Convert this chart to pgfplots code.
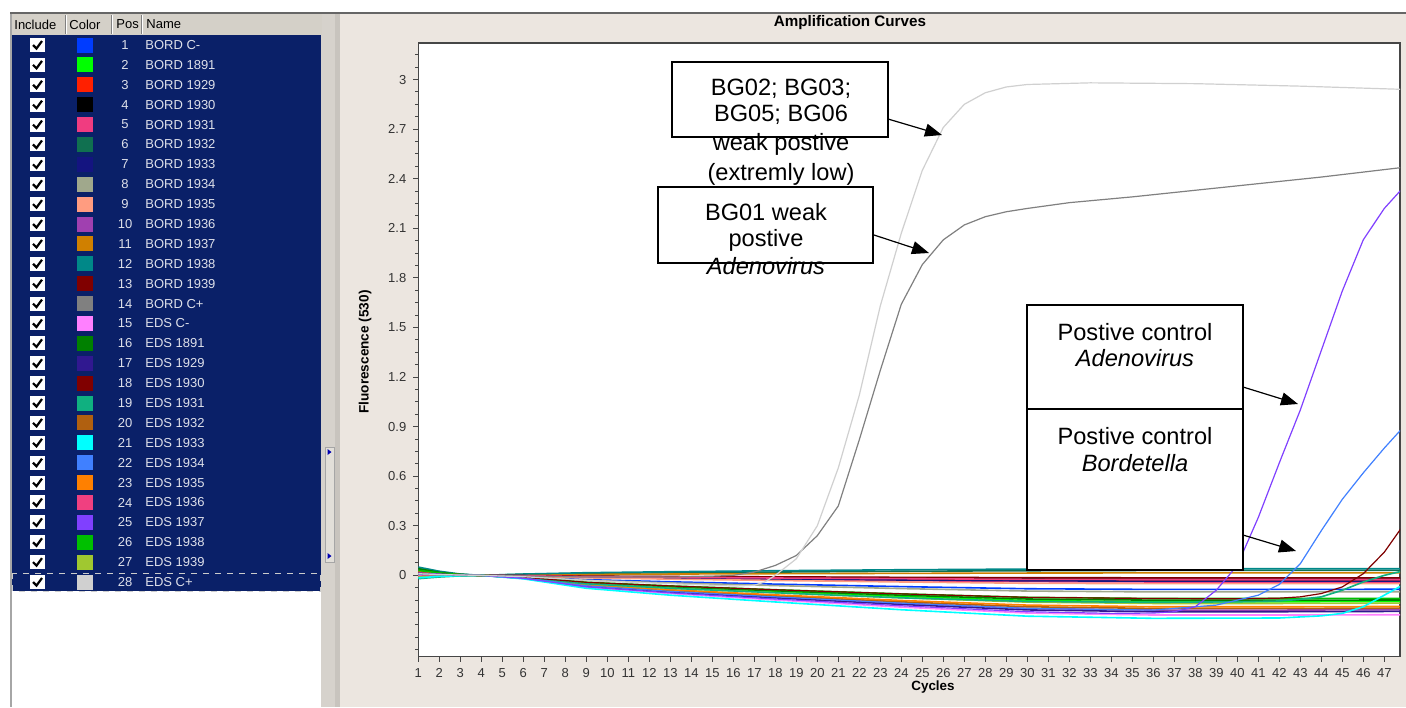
\documentclass[border=0pt]{standalone}
\usepackage{pgfplots}
\pgfplotsset{compat=1.18}
\usepackage{fontspec}
\setmainfont{Liberation Sans}
\usetikzlibrary{arrows.meta}

\definecolor{panelbg}{RGB}{236,230,224}
\definecolor{winbg}{RGB}{212,208,200}
\definecolor{navy}{RGB}{10,32,104}
\definecolor{rowtxt}{RGB}{222,224,234}
\definecolor{axgray}{RGB}{70,70,70}
\definecolor{c1}{RGB}{0,60,255}
\definecolor{c2}{RGB}{0,255,0}
\definecolor{c3}{RGB}{255,32,0}
\definecolor{c4}{RGB}{0,0,0}
\definecolor{c5}{RGB}{240,60,128}
\definecolor{c6}{RGB}{16,112,80}
\definecolor{c7}{RGB}{20,20,128}
\definecolor{c8}{RGB}{160,168,140}
\definecolor{c9}{RGB}{255,156,128}
\definecolor{c10}{RGB}{160,64,176}
\definecolor{c11}{RGB}{208,128,0}
\definecolor{c12}{RGB}{0,136,136}
\definecolor{c13}{RGB}{128,0,0}
\definecolor{c14}{RGB}{128,128,128}
\definecolor{c15}{RGB}{255,128,255}
\definecolor{c16}{RGB}{0,128,0}
\definecolor{c17}{RGB}{48,24,144}
\definecolor{c18}{RGB}{128,0,0}
\definecolor{c19}{RGB}{16,176,128}
\definecolor{c20}{RGB}{176,96,16}
\definecolor{c21}{RGB}{0,255,255}
\definecolor{c22}{RGB}{64,128,255}
\definecolor{c23}{RGB}{255,128,0}
\definecolor{c24}{RGB}{240,64,128}
\definecolor{c25}{RGB}{128,64,255}
\definecolor{c26}{RGB}{0,192,0}
\definecolor{c27}{RGB}{160,200,48}
\definecolor{c28}{RGB}{208,208,208}
\definecolor{split1}{RGB}{214,210,204}
\definecolor{split2}{RGB}{200,196,190}
\definecolor{handle}{RGB}{226,223,217}

\newcommand{\uifont}{\fontsize{6.5}{7}\selectfont}
\newcommand{\notefont}{\fontsize{11.8}{13.5}\selectfont}

\begin{document}
\begin{tikzpicture}[x=0.5pt,y=-0.5pt]
% window background
\fill[white] (0,0) rectangle (1406,707);
\fill[panelbg] (340,13) rectangle (1406,707);
% splitter
\fill[split1] (321,13) rectangle (335,707);
\fill[split2] (335,13) rectangle (340,707);
\filldraw[fill=handle, draw=gray!70, line width=0.4pt] (325,447) rectangle (334,562);
\fill[blue!70!black] (327.5,449) -- (331.5,452) -- (327.5,455) -- cycle;
\fill[blue!70!black] (327.5,553) -- (331.5,556) -- (327.5,559) -- cycle;
% list panel
\fill[winbg] (10,13) rectangle (322,35);
\fill[navy] (12,35) rectangle (321,591);
\fill[white] (12,591) rectangle (321,707);
\draw[gray!70, line width=1pt] (10.5,13) -- (10.5,707);
\draw[black!60, line width=1pt] (10,13) -- (1406,13);
\foreach \xx in {65,111,141} {
  \draw[gray, line width=0.5pt] (\xx,15) -- (\xx,34);
  \draw[white, line width=0.5pt] (\xx+1.5,15) -- (\xx+1.5,34);
}
\node[anchor=west, inner sep=0, font=\uifont] at (14,24.5) {Include};
\node[anchor=west, inner sep=0, font=\uifont] at (69,24.5) {Color};
\node[anchor=west, inner sep=0, font=\uifont] at (116,24.5) {Pos};
\node[anchor=west, inner sep=0, font=\uifont] at (146,24.5) {Name};
\foreach \i/\nm in {1/BORD C-,2/BORD 1891,3/BORD 1929,4/BORD 1930,5/BORD 1931,6/BORD 1932,7/BORD 1933,8/BORD 1934,9/BORD 1935,10/BORD 1936,11/BORD 1937,12/BORD 1938,13/BORD 1939,14/BORD C+,15/EDS C-,16/EDS 1891,17/EDS 1929,18/EDS 1930,19/EDS 1931,20/EDS 1932,21/EDS 1933,22/EDS 1934,23/EDS 1935,24/EDS 1936,25/EDS 1937,26/EDS 1938,27/EDS 1939,28/EDS C+} {
  \pgfmathsetmacro{\yy}{45+(\i-1)*19.89}
  \fill[white] (30,\yy-7) rectangle (45,\yy+7);
  \draw[black, line width=1.1pt] (33,\yy) -- (36.5,\yy+3.5) -- (42,\yy-4);
  \fill[c\i] (77,\yy-7.5) rectangle (93,\yy+7.5);
  \node[text=rowtxt, inner sep=0, font=\uifont] at (125,\yy) {\i};
  \node[anchor=west, text=rowtxt, inner sep=0, font=\uifont] at (145,\yy) {\nm};
}
\draw[white!80!black, dashed, line width=0.4pt] (12.5,573) rectangle (320.5,591);

\begin{axis}[
  at={(209.15pt,-328.25pt)}, anchor=south west,
  scale only axis, width=490.85pt, height=306.75pt,
  xmin=1, xmax=47.75, ymin=-0.491, ymax=3.221,
  axis background/.style={fill=white},
  axis line style={draw=axgray, line width=0.8pt},
  xtick={1,...,47}, xtick pos=lower, ytick pos=left,
  ytick={0,0.3,0.6,0.9,1.2,1.5,1.8,2.1,2.4,2.7,3},
  yticklabels={0,0.3,0.6,0.9,1.2,1.5,1.8,2.1,2.4,2.7,3},
  minor ytick={-0.45,-0.375,-0.3,-0.225,-0.15,-0.075,0.075,0.15,0.225,0.375,0.45,0.525,0.675,0.75,0.825,0.975,1.05,1.125,1.275,1.35,1.425,1.575,1.65,1.725,1.875,1.95,2.025,2.175,2.25,2.325,2.475,2.55,2.625,2.775,2.85,2.925,3.075,3.15},
  tick align=outside, major tick length=2.5pt, minor tick length=1.5pt,
  tick style={draw=axgray, line width=0.5pt},
  ticklabel style={font=\uifont, text=black!80},
  /pgf/number format/assume math mode=true,
  every axis title shift=0pt,
  title={Amplification Curves},
  title style={at={(axis description cs:0.4397,1.0326)}, anchor=center, font=\bfseries\fontsize{7.6}{9}\selectfont},
  xlabel={Cycles},
  xlabel style={at={(axis description cs:0.5243,-0.0497)}, anchor=center, font=\bfseries\fontsize{6.7}{8}\selectfont},
  ylabel={Fluorescence (530)},
  ylabel style={at={(axis description cs:-0.0543,0.4963)}, anchor=center, font=\bfseries\fontsize{6.8}{8}\selectfont},
  every axis plot/.append style={line width=0.8pt},
]
\addplot[c1] coordinates {(1,0.02)(2,0.01)(3,0.004)(4,0)(6,-0.007)(9,-0.026)(13,-0.039)(18,-0.053)(24,-0.068)(30,-0.081)(36,-0.085)(42,-0.085)(48,-0.084)};
\addplot[c2] coordinates {(1,0.03)(2,0.015)(3,0.005)(4,0)(6,-0.013)(9,-0.048)(13,-0.074)(18,-0.099)(24,-0.128)(30,-0.152)(36,-0.16)(42,-0.16)(48,-0.158)};
\addplot[c3] coordinates {(1,0.01)(2,0.006)(3,0.002)(4,0)(6,-0.002)(9,-0.009)(13,-0.014)(18,-0.019)(24,-0.024)(30,-0.028)(36,-0.03)(42,-0.03)(48,-0.03)};
\addplot[c4] coordinates {(1,0.015)(2,0.012)(3,0.004)(4,0)(6,-0.002)(9,-0.006)(13,-0.009)(18,-0.012)(24,-0.016)(30,-0.019)(36,-0.02)(42,-0.02)(48,-0.02)};
\addplot[c5] coordinates {(1,0.005)(2,0.003)(3,0.001)(4,0)(6,-0.003)(9,-0.012)(13,-0.018)(18,-0.025)(24,-0.032)(30,-0.038)(36,-0.04)(42,-0.04)(48,-0.04)};
\addplot[c6] coordinates {(1,0.04)(2,0.02)(3,0.006)(4,0)(6,0.006)(9,0.012)(13,0.016)(18,0.02)(24,0.025)(30,0.028)(36,0.03)(42,0.03)(48,0.03)};
\addplot[c7] coordinates {(1,-0.01)(2,-0.004)(3,-0.001)(4,0)(6,-0.003)(9,-0.01)(13,-0.016)(18,-0.022)(24,-0.028)(30,-0.033)(36,-0.035)(42,-0.035)(48,-0.035)};
\addplot[c8] coordinates {(1,0.02)(2,0.01)(3,0.003)(4,0)(6,-0.008)(9,-0.03)(13,-0.046)(18,-0.062)(24,-0.08)(30,-0.095)(36,-0.1)(42,-0.1)(48,-0.099)};
\addplot[c9] coordinates {(1,0)(2,0.002)(3,0.001)(4,0)(6,-0.004)(9,-0.015)(13,-0.023)(18,-0.031)(24,-0.04)(30,-0.048)(36,-0.05)(42,-0.05)(48,-0.05)};
\addplot[c10] coordinates {(1,0.03)(2,0.014)(3,0.004)(4,0)(6,-0.017)(9,-0.063)(13,-0.097)(18,-0.13)(24,-0.168)(30,-0.2)(36,-0.21)(42,-0.21)(48,-0.208)};
\addplot[c11] coordinates {(1,0)(2,0.004)(3,0.002)(4,0)(6,0.003)(9,0.006)(13,0.008)(18,0.01)(24,0.012)(30,0.014)(36,0.015)(42,0.015)(48,0.015)};
\addplot[c12] coordinates {(1,0.05)(2,0.025)(3,0.008)(4,0)(6,0.008)(9,0.016)(13,0.022)(18,0.028)(24,0.034)(30,0.038)(36,0.04)(42,0.04)(48,0.04)};
\addplot[c13] coordinates {(1,0.02)(2,0.01)(3,0.003)(4,0)(6,-0.001)(9,-0.005)(13,-0.007)(18,-0.009)(24,-0.012)(30,-0.014)(36,-0.015)(42,-0.015)(48,-0.015)};
\addplot[c15] coordinates {(1,0)(2,0.006)(3,0.002)(4,0)(6,-0.019)(9,-0.072)(13,-0.11)(18,-0.149)(24,-0.192)(30,-0.228)(36,-0.24)(42,-0.24)(48,-0.238)};
\addplot[c16] coordinates {(1,0.04)(2,0.018)(3,0.005)(4,0)(6,-0.012)(9,-0.045)(13,-0.069)(18,-0.093)(24,-0.12)(30,-0.143)(36,-0.15)(42,-0.15)(48,-0.149)};
\addplot[c17] coordinates {(1,0.01)(2,0.008)(3,0.003)(4,0)(6,-0.018)(9,-0.066)(13,-0.101)(18,-0.136)(24,-0.176)(30,-0.209)(36,-0.22)(42,-0.22)(48,-0.218)};
\addplot[c20] coordinates {(1,0.025)(2,0.012)(3,0.004)(4,0)(6,-0.016)(9,-0.06)(13,-0.092)(18,-0.124)(24,-0.16)(30,-0.19)(36,-0.2)(42,-0.2)(48,-0.198)};
\addplot[c23] coordinates {(1,0.02)(2,0.01)(3,0.003)(4,0)(6,-0.015)(9,-0.057)(13,-0.087)(18,-0.118)(24,-0.152)(30,-0.18)(36,-0.19)(42,-0.19)(48,-0.188)};
\addplot[c24] coordinates {(1,-0.005)(2,0)(3,0.001)(4,0)(6,-0.002)(9,-0.008)(13,-0.012)(18,-0.016)(24,-0.02)(30,-0.024)(36,-0.025)(42,-0.025)(48,-0.025)};
\addplot[c26] coordinates {(1,0.03)(2,0.015)(3,0.004)(4,0)(6,-0.011)(9,-0.042)(13,-0.064)(18,-0.087)(24,-0.112)(30,-0.133)(36,-0.14)(42,-0.14)(48,-0.139)};
\addplot[c27] coordinates {(1,-0.01)(2,-0.004)(3,-0.001)(4,0)(6,-0.014)(9,-0.051)(13,-0.078)(18,-0.105)(24,-0.136)(30,-0.162)(36,-0.17)(42,-0.17)(48,-0.168)};
% late risers
\addplot[c19] coordinates {(1,-0.02)(2,-0.01)(3,-0.003)(4,0)(6,-0.014)(9,-0.051)(13,-0.078)(18,-0.105)(24,-0.136)(30,-0.158)(36,-0.163)(40,-0.16)(42,-0.155)(43,-0.145)(44,-0.13)(45,-0.09)(46,-0.04)(47,0)(48,0.03)};
\addplot[c21] coordinates {(1,-0.015)(2,-0.006)(3,-0.002)(4,0)(6,-0.021)(9,-0.078)(13,-0.12)(18,-0.161)(24,-0.208)(30,-0.247)(36,-0.26)(42,-0.258)(44,-0.245)(45,-0.23)(46,-0.19)(47,-0.12)(48,-0.05)};
\addplot[c18, line width=0.6pt] coordinates {(1,0.015)(2,0.008)(3,0.002)(4,0)(6,-0.011)(9,-0.042)(13,-0.064)(18,-0.087)(24,-0.112)(30,-0.133)(36,-0.14)(40,-0.142)(42,-0.138)(43,-0.13)(44,-0.11)(45,-0.07)(46,0.01)(47,0.14)(48,0.32)};
\addplot[c22, line width=0.6pt] coordinates {(1,0.005)(2,0.004)(3,0.001)(4,0)(6,-0.017)(9,-0.063)(13,-0.097)(18,-0.13)(24,-0.168)(30,-0.2)(36,-0.21)(39,-0.18)(40,-0.15)(41,-0.12)(42,-0.055)(43,0.07)(44,0.27)(45,0.46)(46,0.62)(47,0.77)(48,0.91)};
\addplot[c25, line width=0.6pt] coordinates {(1,0.015)(2,0.008)(3,0.002)(4,0)(6,-0.018)(9,-0.069)(13,-0.106)(18,-0.143)(24,-0.184)(30,-0.22)(34,-0.23)(36,-0.228)(37,-0.22)(38,-0.19)(39,-0.09)(40,0.06)(41,0.35)(42,0.68)(43,1.0)(44,1.36)(45,1.72)(46,2.03)(47,2.22)(48,2.36)};
% controls
\addplot[c14, line width=0.6pt] coordinates {(1,0.01)(2,0.005)(3,0.002)(4,0)(6,-0.004)(9,-0.01)(13,-0.01)(15,-0.005)(16,0)(17,0.02)(18,0.06)(19,0.12)(20,0.24)(21,0.42)(22,0.82)(23,1.24)(24,1.64)(25,1.88)(26,2.03)(27,2.12)(28,2.17)(29,2.2)(30,2.22)(32,2.255)(35,2.29)(38,2.33)(41,2.37)(44,2.41)(48,2.47)};
\addplot[c28, line width=0.6pt] coordinates {(1,0.01)(2,0.005)(3,0.002)(4,0)(6,-0.008)(9,-0.03)(13,-0.05)(16,-0.065)(17,-0.06)(17.5,-0.04)(18,0)(19,0.1)(20,0.3)(21,0.65)(22,1.09)(23,1.63)(24,2.07)(25,2.45)(26,2.71)(27,2.85)(28,2.92)(29,2.955)(30,2.97)(33,2.98)(38,2.975)(43,2.96)(48,2.94)};
\end{axis}

% callouts
\begin{scope}[font=\notefont, every node/.style={inner sep=0}]
\filldraw[fill=white, draw=black, line width=0.6pt] (672,62) rectangle (888,137);
\node[anchor=base] at (781,95) {BG02; BG03;};
\node[anchor=base] at (781,121.7) {BG05; BG06};
\node[anchor=base] at (781,150) {weak postive};
\node[anchor=base] at (781,180) {(extremly low)};
\draw[line width=0.6pt, -{Triangle[length=8.5pt,width=6.5pt]}] (888,119) -- (942,135);
\filldraw[fill=white, draw=black, line width=0.6pt] (658,187) rectangle (873,263);
\node[anchor=base] at (766,220) {BG01 weak};
\node[anchor=base] at (766,246.7) {postive};
\node[anchor=base] at (766,274) {\itshape Adenovirus};
\draw[line width=0.6pt, -{Triangle[length=8.5pt,width=6.5pt]}] (874,235) -- (929,253);
\filldraw[fill=white, draw=black, line width=0.6pt] (1027,305) rectangle (1243,409);
\filldraw[fill=white, draw=black, line width=0.6pt] (1027,409) rectangle (1243,570);
\draw[black, line width=1.1pt] (1027,409) -- (1243,409);
\node[anchor=base] at (1135,340) {Postive control};
\node[anchor=base] at (1135,366.7) {\itshape Adenovirus};
\node[anchor=base] at (1135,444) {Postive control};
\node[anchor=base] at (1135,471.7) {\itshape Bordetella};
\draw[line width=0.6pt, -{Triangle[length=8.5pt,width=6.5pt]}] (1243,387) -- (1298,404);
\draw[line width=0.6pt, -{Triangle[length=8.5pt,width=6.5pt]}] (1243,535) -- (1296,551);
\end{scope}
\pgfresetboundingbox
\useasboundingbox (0,0) rectangle (1406,707);
\end{tikzpicture}
\end{document}
